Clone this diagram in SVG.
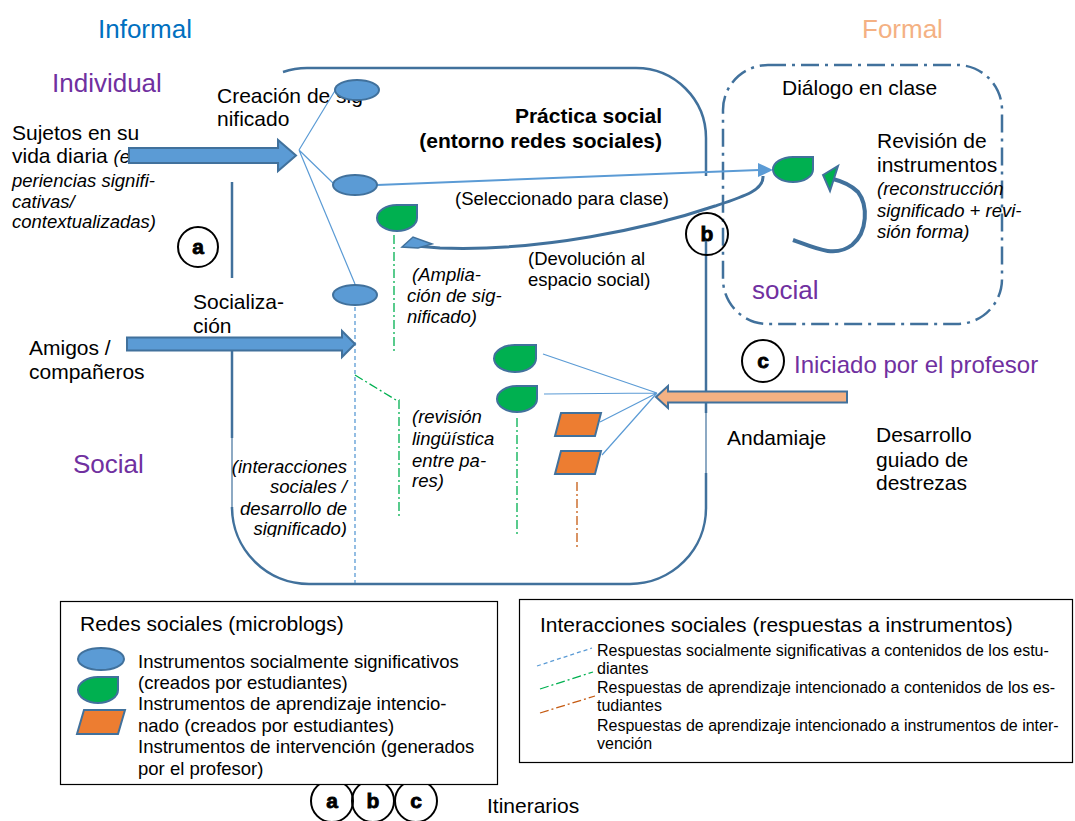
<svg xmlns="http://www.w3.org/2000/svg" width="1075" height="821" viewBox="0 0 1075 821">
<defs>
<style>
text{font-family:"Liberation Sans",Arial,sans-serif;fill:#000}
.t21{font-size:21px}
.t18{font-size:18.5px}
.it{font-size:18.5px;font-style:italic}
.hd{font-size:26px}
.pu{fill:#7030A0}
.bd{font-size:21px;font-weight:bold}
.lg{font-size:16px}
.frame{fill:none;stroke:#41719C;stroke-width:2.5}
.thin{fill:none;stroke:#41719C;stroke-width:1.2}
.oval{fill:#5B9BD5;stroke:#41719C;stroke-width:2}
.drop{fill:#00B050;stroke:#41719C;stroke-width:2}
.para{fill:#ED7D31;stroke:#41719C;stroke-width:2}
.bl{fill:none;stroke:#5B9BD5;stroke-width:1.2}
.bdash{fill:none;stroke:#5B9BD5;stroke-width:1.3;stroke-dasharray:4 3}
.gdash{fill:none;stroke:#00B050;stroke-width:1.3;stroke-dasharray:9 3 2 3}
.odash{fill:none;stroke:#C55A11;stroke-width:1.3;stroke-dasharray:9 3 2 3}
.circ{fill:none;stroke:#000;stroke-width:2}
.cl{font-size:21px;font-weight:bold;text-anchor:middle;stroke:#000;stroke-width:0.8}
.block{fill:#5B9BD5;stroke:#41719C;stroke-width:2}
</style>
<clipPath id="clipInter"><rect x="200" y="440" width="160" height="97"/></clipPath>
</defs>
<rect width="1075" height="821" fill="#fff"/>

<g id="practica-social">
<path class="frame" d="M283,72 A75,75 0 0 1 307,68 L636,68 A70,70 0 0 1 706,138 L706,176"/>
<path class="frame" d="M706,240 L706,413"/>
<path class="thin" d="M706,413 L706,473"/>
<path class="frame" d="M706,473 L706,508 A76,76 0 0 1 630,584 L309,584 A77,77 0 0 1 232,507"/>
<path class="thin" d="M232,507 L232,438"/>
<path class="frame" d="M232,438 L232,350"/>
<path class="frame" d="M232,278 L232,182"/>
<text class="bd" x="662" y="123" text-anchor="end">Práctica social</text>
<text class="bd" x="662" y="148" text-anchor="end">(entorno redes sociales)</text>
</g>

<g id="dialogo">
<rect x="723" y="65" width="279" height="259" rx="45" ry="45" fill="none" stroke="#41719C" stroke-width="2.5" stroke-dasharray="18 6 3 6"/>
<text class="t21" x="782" y="95">Diálogo en clase</text>
<text class="t21" x="877" y="148">Revisión de</text>
<text class="t21" x="877" y="172">instrumentos</text>
<text class="it" x="877" y="195">(reconstrucción</text>
<text class="it" x="877" y="217">significado + revi-</text>
<text class="it" x="877" y="238">sión forma)</text>
<text class="hd pu" x="752" y="299">social</text>
</g>

<g id="labels">
<text class="hd" x="98" y="38" style="fill:#0070C0">Informal</text>
<text class="hd" x="862" y="38" style="fill:#F4B183">Formal</text>
<text class="hd pu" x="52" y="92">Individual</text>
<text class="hd pu" x="73" y="473">Social</text>
<text class="pu" x="794" y="373" style="font-size:24px">Iniciado por el profesor</text>
<text class="t21" x="217" y="103">Creación de sig</text>
<text class="t21" x="217" y="126">nificado</text>
<text class="t21" x="12" y="140">Sujetos en su</text>
<text class="t21" x="12" y="163">vida diaria <tspan class="it">(ex</tspan></text>
<text class="it" x="12" y="187">periencias signifi-</text>
<text class="it" x="12" y="208">cativas/</text>
<text class="it" x="12" y="228">contextualizadas)</text>
<text class="t21" x="193" y="309">Socializa-</text>
<text class="t21" x="193" y="333">ción</text>
<text class="t21" x="29" y="355">Amigos /</text>
<text class="t21" x="29" y="379">compañeros</text>
<g clip-path="url(#clipInter)">
<text class="it" x="347" y="473" text-anchor="end">(interacciones</text>
<text class="it" x="347" y="493" text-anchor="end">sociales /</text>
<text class="it" x="347" y="515" text-anchor="end">desarrollo de</text>
<text class="it" x="347" y="535" text-anchor="end">significado)</text>
</g>
<text class="t18" x="455" y="205">(Seleccionado para clase)</text>
<text class="t18" x="528" y="265">(Devolución al</text>
<text class="t18" x="528" y="286">espacio social)</text>
<text class="it" x="412" y="281">(Amplia-</text>
<text class="it" x="407" y="302">ción de sig-</text>
<text class="it" x="407" y="323">nificado)</text>
<text class="it" x="412" y="423">(revisión</text>
<text class="it" x="412" y="445">lingüística</text>
<text class="it" x="412" y="467">entre pa-</text>
<text class="it" x="412" y="487">res)</text>
<text class="t21" x="727" y="445">Andamiaje</text>
<text class="t21" x="876" y="442">Desarrollo</text>
<text class="t21" x="876" y="467">guiado de</text>
<text class="t21" x="876" y="490">destrezas</text>
</g>

<g id="connectors">
<path class="bl" d="M299,150 L336,89 M299,150 L333,183 M299,150 L355,284"/>
<path d="M377,185 L759,170" fill="none" stroke="#5B9BD5" stroke-width="2"/>
<polygon points="773,170 758,163 758,177" fill="#5B9BD5"/>
<path d="M763,176 C764,190 745,196 715,206 C650,228 540,252 440,248 L416,246" fill="none" stroke="#41719C" stroke-width="3"/>
<polygon points="402,247 413,237 432,244 418,248" fill="#5B9BD5" stroke="#41719C" stroke-width="1.5"/>
<path d="M793,240 C815,248 835,258 852,245 C868,232 868,205 858,192 C852,186 845,182 833,179" fill="none" stroke="#41719C" stroke-width="4"/>
<polygon points="823,175 838,166 830,191" fill="#00B050" stroke="#41719C" stroke-width="2"/>
<path class="bl" d="M543,354 L657,393 M544,394 L657,393 M600,422 L657,393 M602,455 L657,393"/>
<path class="bdash" d="M355,307 L355,583"/>
<path class="gdash" d="M394,235 L394,353"/>
<path class="gdash" d="M355,375 L396,400 L399,400 L399,517"/>
<path class="gdash" d="M517,418 L517,535"/>
<path class="odash" d="M577,482 L577,548"/>
<path class="block" d="M129,148 L278,148 L278,140 L296,155.5 L278,171 L278,163 L129,163 Z"/>
<path class="block" d="M127,337.5 L342,337.5 L342,331 L355,344 L342,357 L342,350.5 L127,350.5 Z"/>
<path d="M847,391.5 L668,391.5 L668,386 L656,397 L668,408 L668,402.5 L847,402.5 Z" fill="#F4B183" stroke="#41719C" stroke-width="2"/>
</g>

<g id="instrumentos">
<ellipse class="oval" cx="357" cy="90" rx="22" ry="10"/>
<ellipse class="oval" cx="355" cy="185" rx="22" ry="10"/>
<ellipse class="oval" cx="355" cy="295" rx="22" ry="10"/>
<path class="drop" d="M397,205 L417,205 L417,218 A20,13 0 0 1 397,231 A20,13 0 0 1 377,218 A20,13 0 0 1 397,205 Z"/>
<path class="drop" d="M793,157 L813,157 L813,169.5 A20,12.5 0 0 1 793,182 A20,12.5 0 0 1 773,169.5 A20,12.5 0 0 1 793,157 Z"/>
<path class="drop" d="M515,345 L536,345 L536,358.5 A21,13.5 0 0 1 515,372 A21,13.5 0 0 1 494,358.5 A21,13.5 0 0 1 515,345 Z"/>
<path class="drop" d="M517,386 L537,386 L537,399 A20,13 0 0 1 517,412 A20,13 0 0 1 497,399 A20,13 0 0 1 517,386 Z"/>
<polygon class="para" points="561,413 601,413 595,436 555,436"/>
<polygon class="para" points="561,451 601,451 595,474 555,474"/>
</g>

<g id="itinerarios">
<circle class="circ" cx="198" cy="247" r="20"/>
<text class="cl" x="198" y="254">a</text>
<circle class="circ" cx="707" cy="234" r="21"/>
<text class="cl" x="707" y="241">b</text>
<circle class="circ" cx="763" cy="361" r="21"/>
<text class="cl" x="763" y="368">c</text>
<circle class="circ" cx="332" cy="801" r="21"/>
<circle class="circ" cx="373" cy="801" r="21"/>
<circle class="circ" cx="416" cy="801" r="21"/>
<text class="cl" x="332" y="808">a</text>
<text class="cl" x="373" y="808">b</text>
<text class="cl" x="416" y="808">c</text>
<text class="t21" x="487" y="813">Itinerarios</text>
</g>

<g id="leyenda-redes">
<rect x="60.5" y="601.5" width="437" height="183" fill="#fff" stroke="#000" stroke-width="1.2"/>
<text class="t21" x="80" y="631">Redes sociales (microblogs)</text>
<ellipse class="oval" cx="101" cy="659" rx="23" ry="11"/>
<path class="drop" d="M98,677 L118,677 L118,690 A20,13 0 0 1 98,703 A20,13 0 0 1 78,690 A20,13 0 0 1 98,677 Z"/>
<polygon class="para" points="84,710 125,710 118,734 77,734"/>
<text class="t18" x="138" y="668">Instrumentos socialmente significativos</text>
<text class="t18" x="138" y="689">(creados por estudiantes)</text>
<text class="t18" x="138" y="710">Instrumentos de aprendizaje intencio-</text>
<text class="t18" x="138" y="732">nado (creados por estudiantes)</text>
<text class="t18" x="138" y="753">Instrumentos de intervención (generados</text>
<text class="t18" x="138" y="775">por el profesor)</text>
</g>

<g id="leyenda-interacciones">
<rect x="519.5" y="599.5" width="553" height="163" fill="#fff" stroke="#000" stroke-width="1.2"/>
<text class="t21" x="540" y="632">Interacciones sociales (respuestas a instrumentos)</text>
<path class="bdash" d="M537,666 L592,648"/>
<path class="gdash" d="M540,689 L593,672"/>
<path class="odash" d="M540,713 L595,696"/>
<text class="lg" x="597" y="656">Respuestas socialmente significativas a contenidos de los estu-</text>
<text class="lg" x="597" y="674">diantes</text>
<text class="lg" x="597" y="693">Respuestas de aprendizaje intencionado a contenidos de los es-</text>
<text class="lg" x="597" y="711">tudiantes</text>
<text class="lg" x="597" y="731">Respuestas de aprendizaje intencionado a instrumentos de inter-</text>
<text class="lg" x="597" y="749">vención</text>
</g>
</svg>
